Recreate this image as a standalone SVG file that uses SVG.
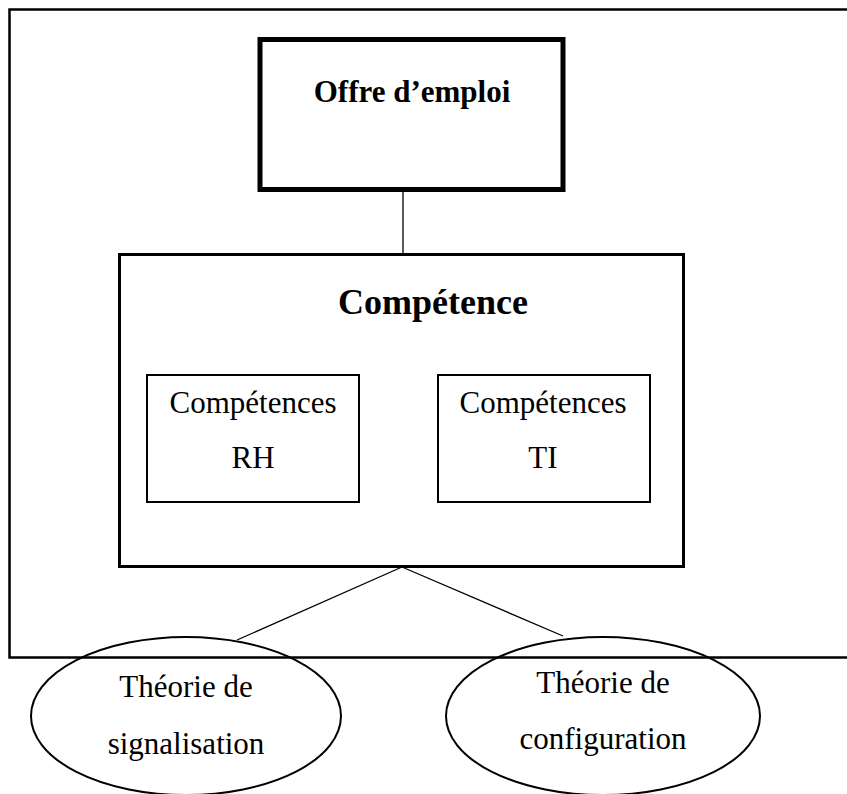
<svg xmlns="http://www.w3.org/2000/svg" width="847" height="794" viewBox="0 0 847 794">
<style>
.t{font-family:"Liberation Serif","Times New Roman",serif;fill:#000;text-anchor:middle}
.b{font-weight:bold}
.box{fill:none;stroke:#000}
</style>
<rect width="847" height="794" fill="#fff"/>
<g id="frame">
<polyline points="849,9.5 9.5,9.5 9.5,657.5 849,657.5" fill="none" stroke="#000" stroke-width="2.5"/>
</g>
<g id="connectors" stroke="#000" stroke-width="1.3" fill="none">
<line x1="403" y1="192" x2="403" y2="253"/>
<line x1="402" y1="567" x2="237" y2="640"/>
<line x1="402" y1="567" x2="563" y2="636"/>
</g>
<g id="offre">
<rect class="box" x="260" y="39.5" width="303" height="150" stroke-width="5"/>
<text class="t b" x="412" y="102" font-size="31">Offre d’emploi</text>
</g>
<g id="competence">
<rect class="box" x="119.5" y="254.5" width="564" height="312" stroke-width="3"/>
<text class="t b" x="433" y="314" font-size="36">Compétence</text>
</g>
<g id="rh">
<rect class="box" x="147" y="375" width="212" height="127" stroke-width="2"/>
<text class="t" x="253" y="413" font-size="31">Compétences</text>
<text class="t" x="253" y="468" font-size="31">RH</text>
</g>
<g id="ti">
<rect class="box" x="438" y="375" width="212" height="127" stroke-width="2"/>
<text class="t" x="543" y="413" font-size="31">Compétences</text>
<text class="t" x="543" y="468" font-size="31">TI</text>
</g>
<g id="signalisation">
<ellipse class="box" cx="186" cy="716" rx="155" ry="79" stroke-width="2" fill="#fff"/>
<text class="t" x="186" y="697" font-size="31">Théorie de</text>
<text class="t" x="186" y="754" font-size="31">signalisation</text>
</g>
<g id="configuration">
<ellipse class="box" cx="603" cy="716" rx="157" ry="79" stroke-width="2" fill="#fff"/>
<text class="t" x="603" y="693" font-size="31">Théorie de</text>
<text class="t" x="603" y="749" font-size="31">configuration</text>
</g>
</svg>
